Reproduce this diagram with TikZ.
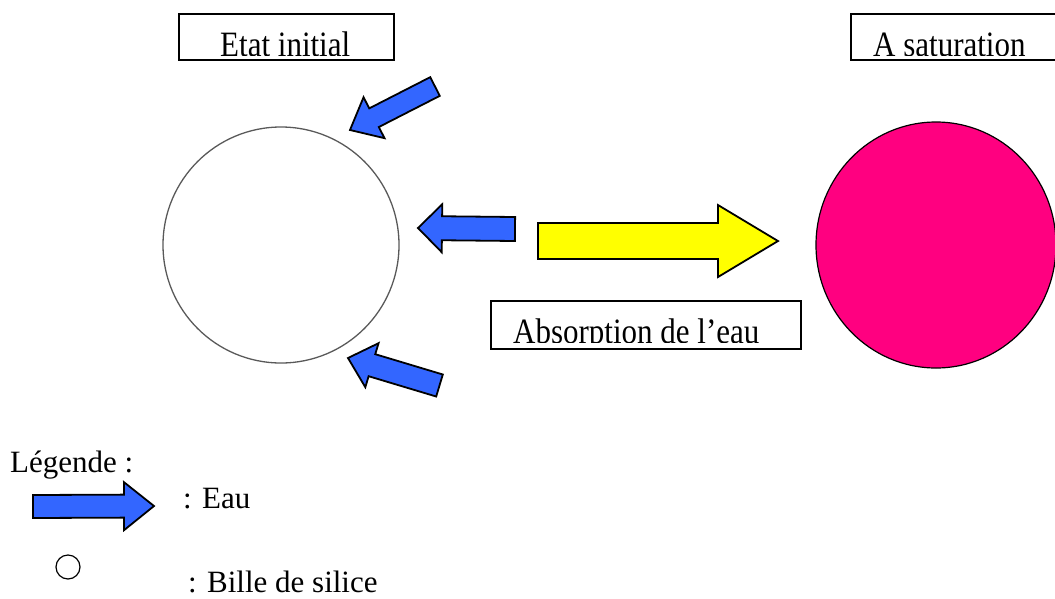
\documentclass[tikz,border=0pt]{standalone}
\usepackage{fontspec}
\usepackage{graphicx}
\setmainfont{Liberation Serif}
\usetikzlibrary{calc}
\definecolor{eaublue}{RGB}{51,102,255}
\definecolor{satpink}{RGB}{255,0,128}
\definecolor{arrowyellow}{RGB}{255,255,0}
\tikzset{
  lbl/.style={inner sep=0pt, anchor=base west, font=\fontsize{31}{37}\selectfont},
  framebox/.style={draw=black, line width=1.8pt},
  fatarrow/.style={draw=black, line width=1.8pt, line join=miter},
}
\newcommand{\tallbox}[1]{\scalebox{1}[1.15]{#1}}
% \fatarr{style}{tail}{tip}{shaft half width}{head half width}{head length}
\newcommand{\fatarr}[6]{%
  \coordinate (fT) at (#2);
  \coordinate (fP) at (#3);
  \coordinate (fH) at ($(fP)!#6pt!(fT)$);
  \draw[fatarrow,#1]
    ($(fT)!#4pt!90:(fP)$) -- ($(fH)!#4pt!-90:(fT)$) -- ($(fH)!#5pt!-90:(fT)$) -- (fP)
    -- ($(fH)!#5pt!90:(fT)$) -- ($(fH)!#4pt!90:(fT)$) -- ($(fT)!#4pt!-90:(fP)$) -- cycle;
}
\begin{document}
\begin{tikzpicture}[x=1pt,y=-1pt]
\useasboundingbox (0,0) rectangle (1055,598);

% title boxes
\begin{scope}
  \clip (179,14) rectangle (394,55);
  \node[lbl] (etat) at (220,56.5) {\tallbox{Etat initial}};
\end{scope}
\draw[framebox] (179,14) rectangle (394,60);

\begin{scope}
  \clip (851,14) rectangle (1055,55);
  \node[lbl] (sat) at (873,56.5) {\tallbox{A saturation}};
\end{scope}
\draw[framebox] (851,14) rectangle (1060,60);

\begin{scope}
  \clip (491,301) rectangle (801,342);
  \node[lbl] (abs) at (513,343) {\tallbox{Absorption de l’eau}};
\end{scope}
\draw[framebox] (491,301) rectangle (801,349);

% silica beads
\draw[draw=gray!70!black, line width=1.3pt] (281,245) circle (118);
\draw[draw=black, line width=1.2pt, fill=satpink] (936,245) ellipse (120 and 123);

% water arrows
\fatarr{fill=eaublue}{435,86.5}{350,130}{10.5}{23}{27}
\fatarr{fill=eaublue}{515,229}{418,228}{12}{24}{24}
\fatarr{fill=eaublue}{439.5,385.5}{348,358}{11.5}{23}{25}
\fatarr{fill=arrowyellow}{538,241}{778,241}{18}{36}{60}

% legend
\node[lbl] (leg) at (10,472) {Légende :};
\fatarr{fill=eaublue}{33,506.5}{154,506}{11.5}{24}{30}
\node[lbl] (eau) at (183,508) {: Eau};
\draw[draw=black, line width=1.2pt] (68,567) circle (12);
\node[lbl] (bille) at (188,592) {: Bille de silice};
\end{tikzpicture}
\end{document}
